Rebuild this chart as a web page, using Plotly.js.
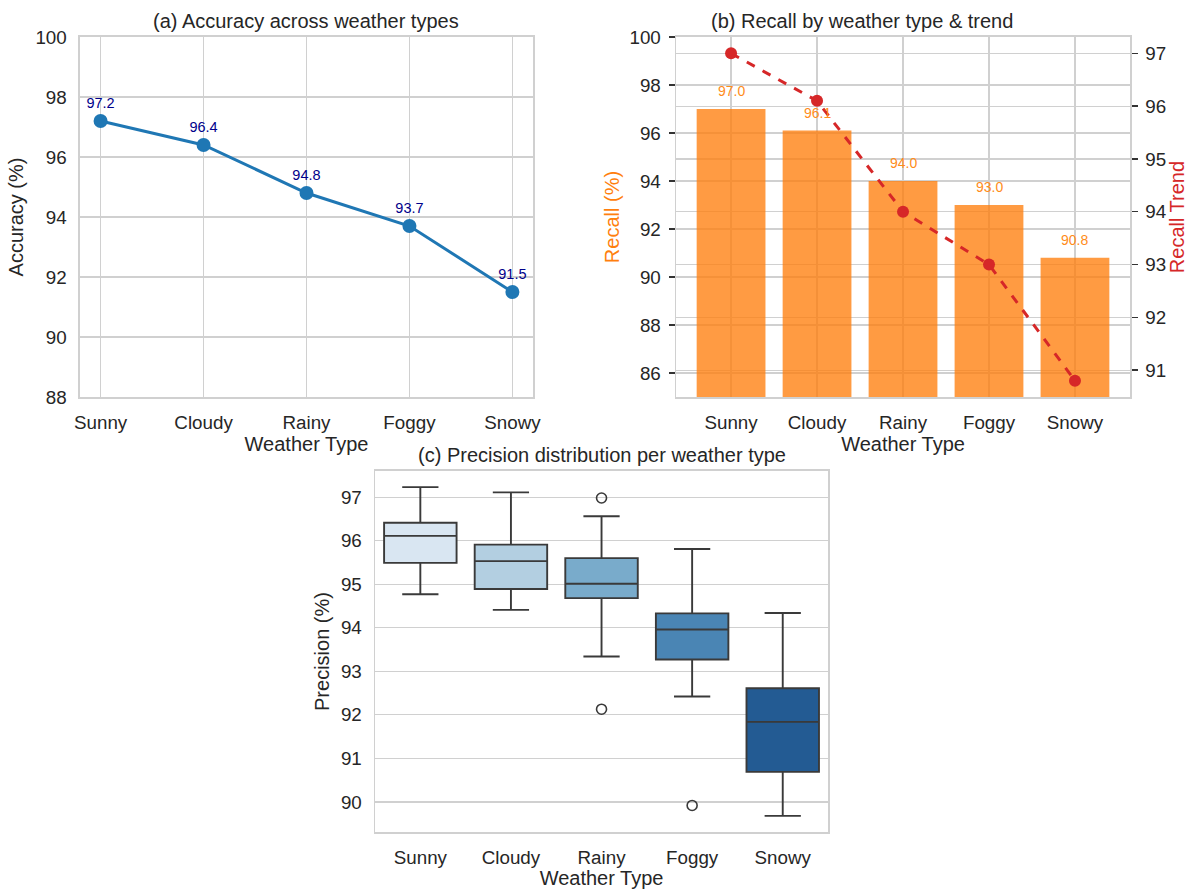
<!DOCTYPE html>
<html>
<head>
<meta charset="utf-8">
<script src="https://cdn.plot.ly/plotly-3.0.1.min.js"></script>
<style>html,body{margin:0;padding:0;background:#fff;} #chart{width:1194px;height:889px;}</style>
</head>
<body>
<div id="chart"></div>
<script>
// ---------- data ----------
const weatherTypes = ["Sunny", "Cloudy", "Rainy", "Foggy", "Snowy"];

// (a) accuracy
const accuracy = [97.2, 96.4, 94.8, 93.7, 91.5];

// (b) recall and trend
const recall = [97.0, 96.1, 94.0, 93.0, 90.8];
const recallTrend = [97.0, 96.1, 94.0, 93.0, 90.8];

// (c) precision distribution (box statistics)
const precLowerWhisker = [94.77, 94.41, 93.34, 92.42, 89.68];
const precQ1 = [95.49, 94.89, 94.68, 93.27, 90.69];
const precMedian = [96.11, 95.53, 95.01, 93.96, 91.84];
const precQ3 = [96.41, 95.91, 95.60, 94.33, 92.61];
const precUpperWhisker = [97.23, 97.11, 96.56, 95.81, 94.34];
const outlierType = ["Rainy", "Rainy", "Foggy"];
const outlierValue = [96.98, 92.13, 89.92];
const boxColors = ["#d9e6f2", "#b3cfe1", "#79abcb", "#4a85b4", "#235b93"];

// ---------- style ----------
const FONT = "Arial, 'Liberation Sans', Helvetica, sans-serif";
const TXT = "#262626";
const GRID = "#d0d0d0";
const tickFont = {family: FONT, size: 18.8, color: TXT};
const labFont = {family: FONT, size: 20, color: TXT};

function baseAxis(extra) {
  return Object.assign({
    showline: true, mirror: true, linecolor: GRID, linewidth: 1.5,
    showgrid: true, gridcolor: GRID, gridwidth: 1.2,
    zeroline: false, ticks: "", tickfont: tickFont,
    ticklabelstandoff: 8, fixedrange: true
  }, extra);
}

const traces = [];

// (a)
traces.push({
  type: "scatter", mode: "lines+markers+text",
  x: weatherTypes, y: accuracy, xaxis: "x", yaxis: "y",
  line: {color: "#1f77b4", width: 3},
  marker: {color: "#1f77b4", size: 14},
  text: accuracy.map(v => v.toFixed(1)),
  textposition: "top center",
  textfont: {family: FONT, size: 14.5, color: "#00008b"},
  cliponaxis: false, showlegend: false
});

// (b) bars
traces.push({
  type: "bar", x: weatherTypes, y: recall, xaxis: "x2", yaxis: "y2",
  marker: {color: "#ff7f0e", line: {width: 0}}, opacity: 0.78,
  width: 0.8, showlegend: false
});
// (b) trend
traces.push({
  type: "scatter", mode: "lines+markers",
  x: weatherTypes, y: recallTrend, xaxis: "x2", yaxis: "y3",
  line: {color: "#d62728", width: 3, dash: "dash"},
  marker: {color: "#d62728", size: 12},
  cliponaxis: false, showlegend: false
});

// (c) boxes
weatherTypes.forEach((w, i) => {
  traces.push({
    type: "box", x: [w], xaxis: "x3", yaxis: "y4",
    q1: [precQ1[i]], median: [precMedian[i]], q3: [precQ3[i]],
    lowerfence: [precLowerWhisker[i]], upperfence: [precUpperWhisker[i]],
    fillcolor: boxColors[i], line: {color: "#3a3a3a", width: 1.9},
    width: 0.8, whiskerwidth: 0.5, boxpoints: false, showlegend: false
  });
});
traces.push({
  type: "scatter", mode: "markers", x: outlierType, y: outlierValue,
  xaxis: "x3", yaxis: "y4",
  marker: {symbol: "circle-open", size: 10, color: "#3a3a3a", line: {width: 1.6}},
  showlegend: false
});

// bar value labels
const annotations = recall.map((v, i) => ({
  x: weatherTypes[i], y: v, xref: "x2", yref: "y2",
  text: v.toFixed(1), showarrow: false, yanchor: "bottom", yshift: 8,
  font: {family: FONT, size: 14, color: "#ff8c1a"}
}));

// titles
const titleFont = {family: FONT, size: 20, color: TXT};
annotations.push(
  {text: "(a) Accuracy across weather types", xref: "paper", yref: "paper",
   x: 0.2567, y: 0.976, showarrow: false, font: titleFont, xanchor: "center", yanchor: "middle"},
  {text: "(b) Recall by weather type &amp; trend", xref: "paper", yref: "paper",
   x: 0.7219, y: 0.976, showarrow: false, font: titleFont, xanchor: "center", yanchor: "middle"},
  {text: "(c) Precision distribution per weather type", xref: "paper", yref: "paper",
   x: 0.5038, y: 0.488, showarrow: false, font: titleFont, xanchor: "center", yanchor: "middle"}
);

const layout = {
  width: 1194, height: 889,
  margin: {l: 0, r: 0, t: 0, b: 0},
  paper_bgcolor: "#ffffff", plot_bgcolor: "#ffffff",
  showlegend: false, bargap: 0.2,
  font: {family: FONT, color: TXT},
  // (a)
  xaxis: baseAxis({domain: [0.0670, 0.4464], anchor: "y", type: "category",
    range: [-0.2, 4.2], title: {text: "Weather Type", font: labFont, standoff: 0}}),
  yaxis: baseAxis({domain: [0.5534, 0.9584], anchor: "x", range: [88, 100], dtick: 2,
    title: {text: "Accuracy (%)", font: labFont, standoff: 6}}),
  // (b)
  xaxis2: baseAxis({domain: [0.5662, 0.9464], anchor: "y2", type: "category",
    range: [-0.64, 4.64], title: {text: "Weather Type", font: labFont, standoff: 0}}),
  yaxis2: baseAxis({domain: [0.5534, 0.9584], anchor: "x2", range: [85, 100], dtick: 2, tick0: 86,
    ticks: "outside", ticklen: 6, tickwidth: 1.5, tickcolor: "#333333", ticklabelstandoff: 4,
    mirror: false,
    title: {text: "Recall (%)", font: {family: FONT, size: 20, color: "#ff7f0e"}, standoff: 4}}),
  yaxis3: baseAxis({overlaying: "y2", side: "right", anchor: "x2", range: [90.49, 97.31], dtick: 1,
    ticks: "outside", ticklen: 6, tickwidth: 1.5, tickcolor: "#333333", ticklabelstandoff: 4,
    mirror: false,
    title: {text: "Recall Trend", font: {family: FONT, size: 20, color: "#d62728"}, standoff: 4}}),
  // (c)
  xaxis3: baseAxis({domain: [0.3141, 0.6935], anchor: "y4", type: "category",
    range: [-0.5, 4.5], showgrid: false, title: {text: "Weather Type", font: labFont, standoff: 0}}),
  yaxis4: baseAxis({domain: [0.0641, 0.4702], anchor: "x3", range: [89.31, 97.6], dtick: 1,
    title: {text: "Precision (%)", font: labFont, standoff: 6}}),
  annotations: annotations,
  boxmode: "overlay"
};

Plotly.newPlot("chart", traces, layout, {displayModeBar: false, staticPlot: true});
</script>
</body>
</html>
